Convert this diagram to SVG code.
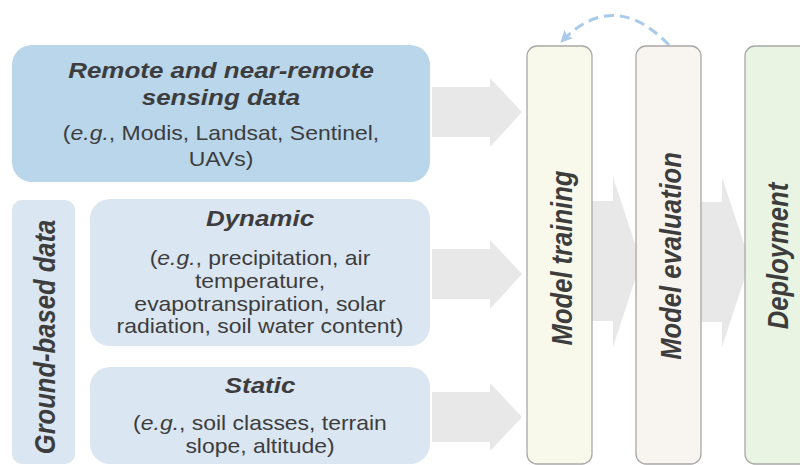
<svg xmlns="http://www.w3.org/2000/svg" width="800" height="465" viewBox="0 0 800 465">
  <style>
    .t { font-family: "Liberation Sans", Arial, sans-serif; fill: #3d3d3d; text-anchor: middle; }
    .b { font-weight: bold; font-style: italic; }
    .r { font-size: 20.5px; }
    .h { font-size: 22px; }
    .v { font-size: 25.6px; }
    .arr { fill: #e8e8e8; }
    .stage { stroke: #a8a8a8; stroke-width: 1.3; }
  </style>
  <defs>
    <marker id="ah" viewBox="0 0 10 10" refX="8" refY="5" markerWidth="4" markerHeight="4" orient="auto" markerUnits="strokeWidth">
      <path d="M0,0 L10,5 L0,10 L2,5 Z" fill="#a9cbe9"/>
    </marker>
  </defs>
  <rect width="800" height="465" fill="#ffffff"/>

  <g id="connectors">
    <polygon class="arr" points="432,87 490,87 490,78 522,112 490,147 490,137 432,137"/>
    <polygon class="arr" points="432,249 490,249 490,240 522,274 490,309 490,299 432,299"/>
    <polygon class="arr" points="432,392 490,392 490,383 522,417 490,451 490,442 432,442"/>
    <polygon class="arr" points="590,201 613,201 613,177 641,262 613,347 613,321 590,321"/>
    <polygon class="arr" points="699,202 722,202 722,177 750,262 722,347 722,322 699,322"/>
    <path d="M669,45 Q614,-12 562,41" fill="none" stroke="#a9cbe9" stroke-width="3" stroke-dasharray="10,6" marker-end="url(#ah)"/>
  </g>

  <g id="remote">
    <rect x="12" y="45" width="418" height="137" rx="20" fill="#b9d6eb"/>
    <text class="t b h" transform="translate(221,78) scale(1.18,1)">Remote and near-remote</text>
    <text class="t b h" transform="translate(221,105) scale(1.18,1)">sensing data</text>
    <text class="t r" transform="translate(221,140) scale(1.12,1)">(<tspan font-style="italic">e.g.</tspan>, Modis, Landsat, Sentinel,</text>
    <text class="t r" transform="translate(221,166) scale(1.12,1)">UAVs)</text>
  </g>

  <g id="ground">
    <rect x="12" y="200" width="63" height="264" rx="10" fill="#dbe6f3"/>
    <text class="t b v" transform="translate(55,337) scale(1.18,1) rotate(-90)">Ground-based data</text>
  </g>

  <g id="dynamic">
    <rect x="90" y="199" width="340" height="147" rx="20" fill="#dbe6f3"/>
    <text class="t b h" transform="translate(260,226) scale(1.18,1)">Dynamic</text>
    <text class="t r" transform="translate(260,265) scale(1.12,1)">(<tspan font-style="italic">e.g.</tspan>, precipitation, air</text>
    <text class="t r" transform="translate(260,287.5) scale(1.12,1)">temperature,</text>
    <text class="t r" transform="translate(260,310.5) scale(1.12,1)">evapotranspiration, solar</text>
    <text class="t r" transform="translate(260,333) scale(1.12,1)">radiation, soil water content)</text>
  </g>

  <g id="static">
    <rect x="90" y="367" width="340" height="97" rx="20" fill="#dbe6f3"/>
    <text class="t b h" transform="translate(260,392.5) scale(1.18,1)">Static</text>
    <text class="t r" transform="translate(260,430) scale(1.12,1)">(<tspan font-style="italic">e.g.</tspan>, soil classes, terrain</text>
    <text class="t r" transform="translate(260,453) scale(1.12,1)">slope, altitude)</text>
  </g>

  <g id="training">
    <rect class="stage" x="527" y="46" width="65" height="418" rx="10" fill="#f8f9eb"/>
    <text class="t b v" transform="translate(572,258) scale(1.18,1) rotate(-90)">Model training</text>
  </g>

  <g id="evaluation">
    <rect class="stage" x="636" y="46" width="65" height="418" rx="10" fill="#f8f4f0"/>
    <text class="t b v" transform="translate(681,256) scale(1.18,1) rotate(-90)">Model evaluation</text>
  </g>

  <g id="deployment">
    <rect class="stage" x="745" y="46" width="80" height="418" rx="10" fill="#e9f4e3"/>
    <text class="t b v" transform="translate(788,256) scale(1.18,1) rotate(-90)">Deployment</text>
  </g>
</svg>
